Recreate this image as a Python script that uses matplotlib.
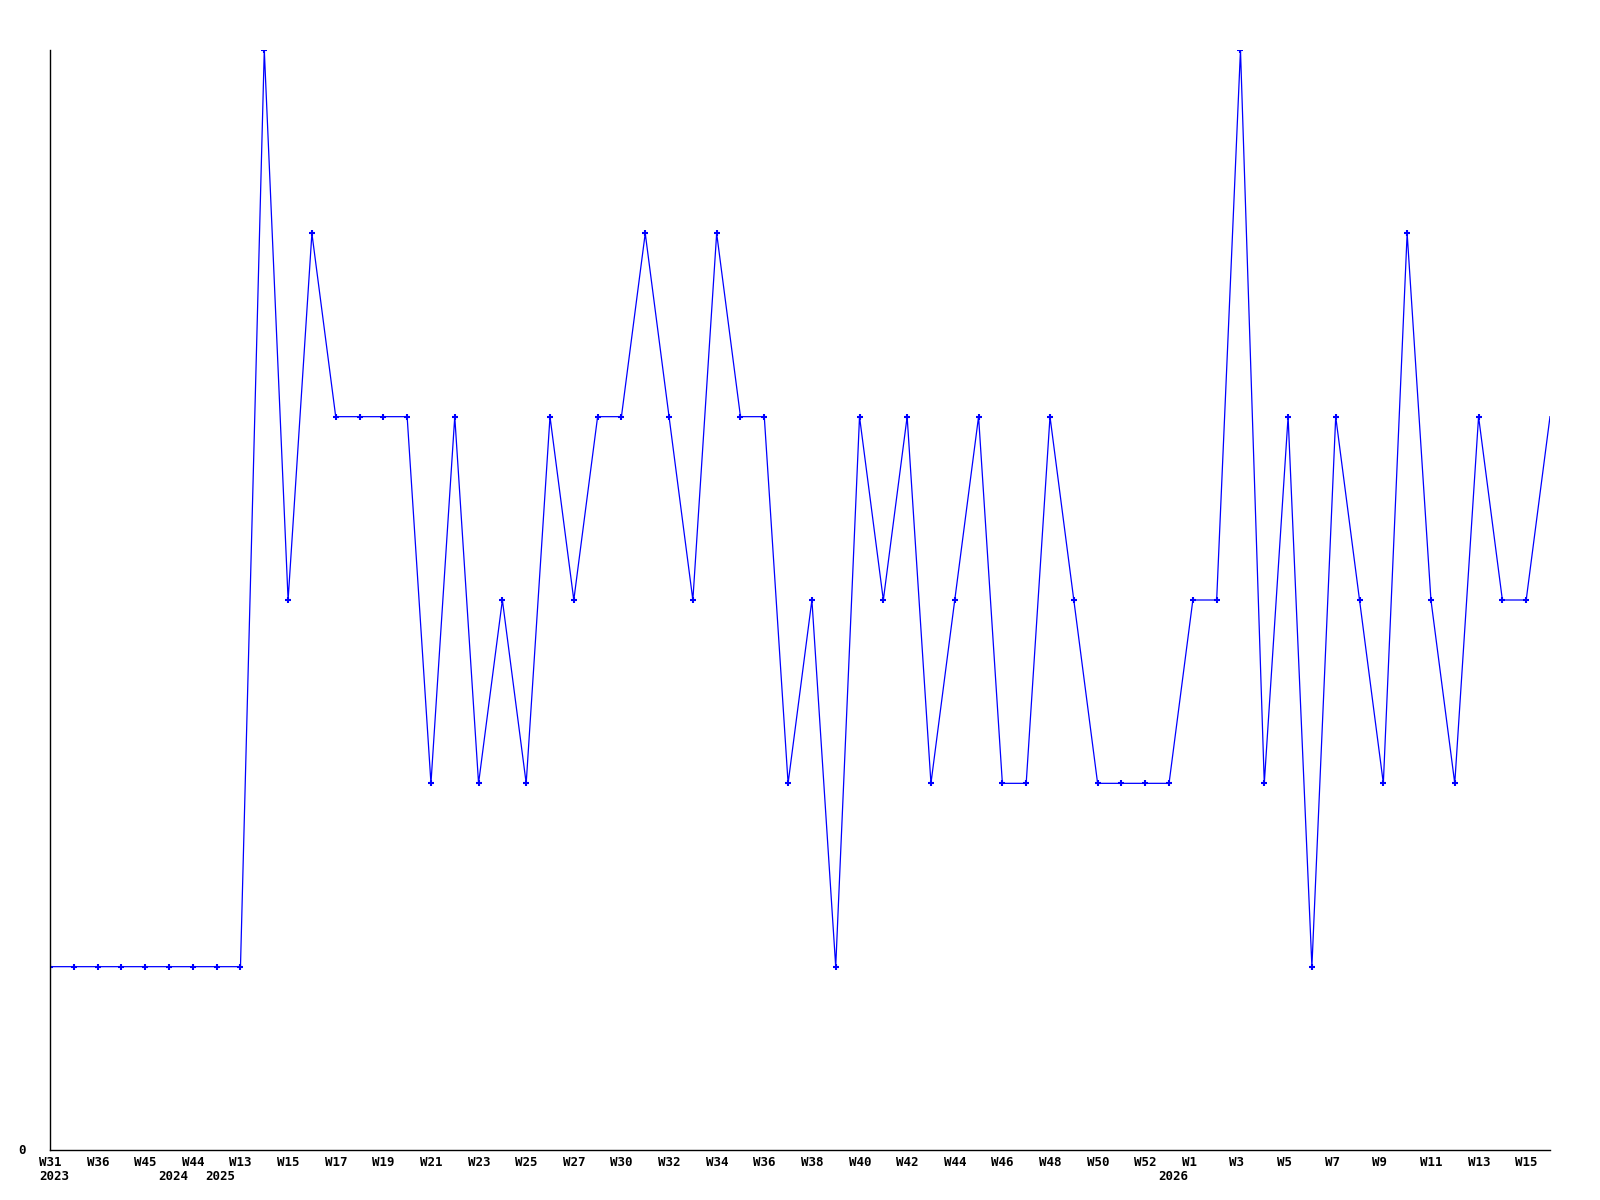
import matplotlib
matplotlib.use("Agg")
import matplotlib.pyplot as plt

# ============================================================
# DATOS
# ============================================================

weeks = [
    "W31", "W32", "W36", "W40", "W45", "W50", "W44", "W12", "W13", "W14",
    "W15", "W16", "W17", "W18", "W19", "W20", "W21", "W22", "W23", "W24",
    "W25", "W26", "W27", "W29", "W30", "W31", "W32", "W33", "W34", "W35",
    "W36", "W37", "W38", "W39", "W40", "W41", "W42", "W43", "W44", "W45",
    "W46", "W47", "W48", "W49", "W50", "W51", "W52", "W53", "W1", "W2",
    "W3", "W4", "W5", "W6", "W7", "W8", "W9", "W10", "W11", "W12",
    "W13", "W14", "W15", "W16",
]

# primer punto de cada año
years = {0: "2023", 5: "2024", 7: "2025", 47: "2026"}

values = [
    1, 1, 1, 1, 1, 1, 1, 1, 1, 6,
    3, 5, 4, 4, 4, 4, 2, 4, 2, 3,
    2, 4, 3, 4, 4, 5, 4, 3, 5, 4,
    4, 2, 3, 1, 4, 3, 4, 2, 3, 4,
    2, 2, 4, 3, 2, 2, 2, 2, 3, 3,
    6, 2, 4, 1, 4, 3, 2, 5, 3, 2,
    4, 3, 3, 4,
]

# ============================================================
# GRÁFICO
# ============================================================

fig = plt.figure(figsize=(16, 12), dpi=100)
ax = fig.add_axes([50 / 1600, 1 - 1150 / 1200, 1500 / 1600, 1100 / 1200])

x = list(range(len(values)))

ax.plot(
    x,
    values,
    color="#0000ff",
    linewidth=0.9,
    marker="+",
    markersize=4,
    markeredgewidth=1.5,
    markevery=list(range(len(values) - 1)),
)

ax.set_xlim(0, len(values) - 1)
ax.set_ylim(0, 6)

for side in ["top", "right"]:
    ax.spines[side].set_visible(False)
for side in ["left", "bottom"]:
    ax.spines[side].set_color("black")
    ax.spines[side].set_linewidth(1.0)

ax.set_xticks([])
ax.set_yticks([])

font = dict(family="DejaVu Sans Mono", fontweight="bold", fontsize=9)

for i in range(0, len(values), 2):
    ax.annotate(
        weeks[i],
        xy=(i, 0),
        xycoords="data",
        xytext=(-11, -12),
        textcoords="offset pixels",
        ha="left",
        va="center",
        **font
    )

for i, year in years.items():
    ax.annotate(
        year,
        xy=(i, 0),
        xycoords="data",
        xytext=(-11, -27),
        textcoords="offset pixels",
        ha="left",
        va="center",
        **font
    )

ax.annotate(
    "0",
    xy=(0, 0),
    xycoords="data",
    xytext=(-28, 0),
    textcoords="offset pixels",
    ha="center",
    va="center",
    **font
)

plt.savefig("out.png", dpi=100)
